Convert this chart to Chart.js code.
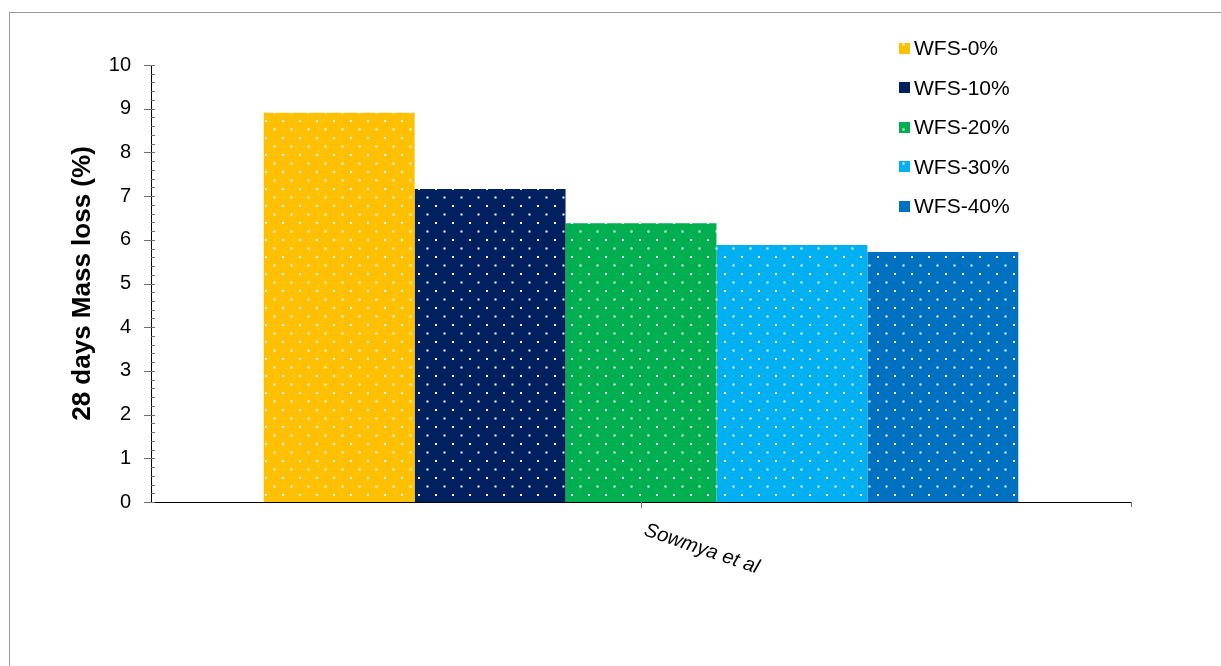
<!DOCTYPE html>
<html>
<head>
<meta charset="utf-8">
<script src="https://cdn.jsdelivr.net/npm/chart.js@4/dist/chart.umd.min.js"></script>
<style>
  html, body { margin: 0; padding: 0; background: #fff; overflow: hidden; }
  #wrap { position: relative; width: 1221px; height: 666px; }
  #frame {
    position: absolute; left: 9px; top: 12px; width: 1400px; height: 900px;
    border-left: 1px solid #9a9a9a; border-top: 1px solid #9a9a9a;
    pointer-events: none;
  }
  #massChart { position: absolute; left: 0; top: 0; }
</style>
</head>
<body>
<div id="wrap">
  <div id="frame"></div>
  <canvas id="massChart" width="1221" height="666"></canvas>
</div>
<script>
// 28-day mass loss for each waste foundry sand replacement level
const categories = ['Sowmya et al'];
const seriesNames = ['WFS-0%', 'WFS-10%', 'WFS-20%', 'WFS-30%', 'WFS-40%'];
const massLoss = [8.91, 7.16, 6.38, 5.88, 5.72];
const yTicks = [0, 1, 2, 3, 4, 5, 6, 7, 8, 9, 10];

const seriesColors = ['#FFC000', '#002060', '#00B050', '#00B0F0', '#0070C0'];
const FONT = '"Liberation Sans", Arial, sans-serif';

// dotted fill: solid colour with a staggered grid of white dots
function makePattern(color) {
    const tile = document.createElement('canvas');
    tile.width = 17;
    tile.height = 17;
    const t = tile.getContext('2d');
    t.fillStyle = color;
    t.fillRect(0, 0, 17, 17);
    t.fillStyle = '#ffffff';
    t.fillRect(10, 1, 2, 2);
    t.fillRect(1.5, 9.5, 2, 2);
    return document.getElementById('massChart').getContext('2d').createPattern(tile, 'repeat');
}

const patterns = seriesColors.map(makePattern);

// tick marks: major ticks cross the y axis, minor ticks sit inside
const axisTicks = {
    id: 'axisTicks',
    afterDraw(chart) {
        const ctx = chart.ctx;
        const ys = chart.scales.y;
        const xs = chart.scales.x;
        const area = chart.chartArea;
        ctx.save();
        ctx.strokeStyle = '#6f6f6f';
        ctx.lineWidth = 1;
        ctx.beginPath();
        for (let i = 0; i <= 50; i++) {
            const py = Math.round(ys.getPixelForValue(i / 5)) + 0.5;
            const major = i % 5 === 0;
            ctx.moveTo(major ? area.left - 7 : area.left, py);
            ctx.lineTo(area.left + 4, py);
        }
        const cx = Math.round(xs.getPixelForTick(0)) + 0.5;
        ctx.moveTo(cx, area.bottom);
        ctx.lineTo(cx, area.bottom + 6);
        ctx.moveTo(Math.round(area.right) + 0.5, area.bottom);
        ctx.lineTo(Math.round(area.right) + 0.5, area.bottom + 5);
        ctx.stroke();

        // category label, slanted downwards
        ctx.fillStyle = '#000';
        ctx.font = 'italic 20px ' + FONT;
        ctx.textAlign = 'left';
        ctx.textBaseline = 'alphabetic';
        ctx.translate(xs.getPixelForTick(0) + 2, area.bottom + 33);
        ctx.rotate(18.7 * Math.PI / 180);
        ctx.fillText(categories[0], 0, 0);
        ctx.restore();
    }
};

// legend column in the upper right of the plot
const sideLegend = {
    id: 'sideLegend',
    afterDraw(chart) {
        const ctx = chart.ctx;
        ctx.save();
        ctx.font = '21px ' + FONT;
        ctx.textAlign = 'left';
        ctx.textBaseline = 'alphabetic';
        chart.data.datasets.forEach((ds, i) => {
            const cy = 48 + i * 39.6;
            ctx.fillStyle = ds.backgroundColor;
            ctx.fillRect(899, Math.round(cy - 5.5), 11, 11);
            ctx.fillStyle = '#000';
            ctx.fillText(ds.label, 914, cy + 7);
        });
        ctx.restore();
    }
};

new Chart(document.getElementById('massChart'), {
    type: 'bar',
    data: {
        labels: categories,
        datasets: seriesNames.map((name, i) => ({
            label: name,
            data: [massLoss[i]],
            backgroundColor: patterns[i],
            borderWidth: 0,
            categoryPercentage: 0.77,
            barPercentage: 1
        }))
    },
    options: {
        responsive: false,
        animation: false,
        layout: { padding: { left: 0, right: 90, top: 65, bottom: 0 } },
        plugins: {
            legend: { display: false },
            tooltip: { enabled: false }
        },
        scales: {
            x: {
                grid: { display: false },
                border: { display: true, color: '#000', width: 1 },
                ticks: { display: false },
                afterFit(scale) { scale.height = 164; }
            },
            y: {
                min: 0,
                max: 10,
                afterBuildTicks(scale) { scale.ticks = yTicks.map(v => ({ value: v })); },
                grid: { display: false, drawTicks: false },
                border: { display: true, color: '#000', width: 1 },
                ticks: {
                    color: '#000',
                    font: { family: FONT, size: 20 },
                    padding: 20
                },
                title: {
                    display: true,
                    text: '28 days Mass loss (%)',
                    color: '#000',
                    font: { family: FONT, size: 26, weight: 'bold' },
                    padding: { top: 67, bottom: 0 }
                },
                afterFit(scale) { scale.width = 151; }
            }
        }
    },
    plugins: [axisTicks, sideLegend]
});
</script>
</body>
</html>
